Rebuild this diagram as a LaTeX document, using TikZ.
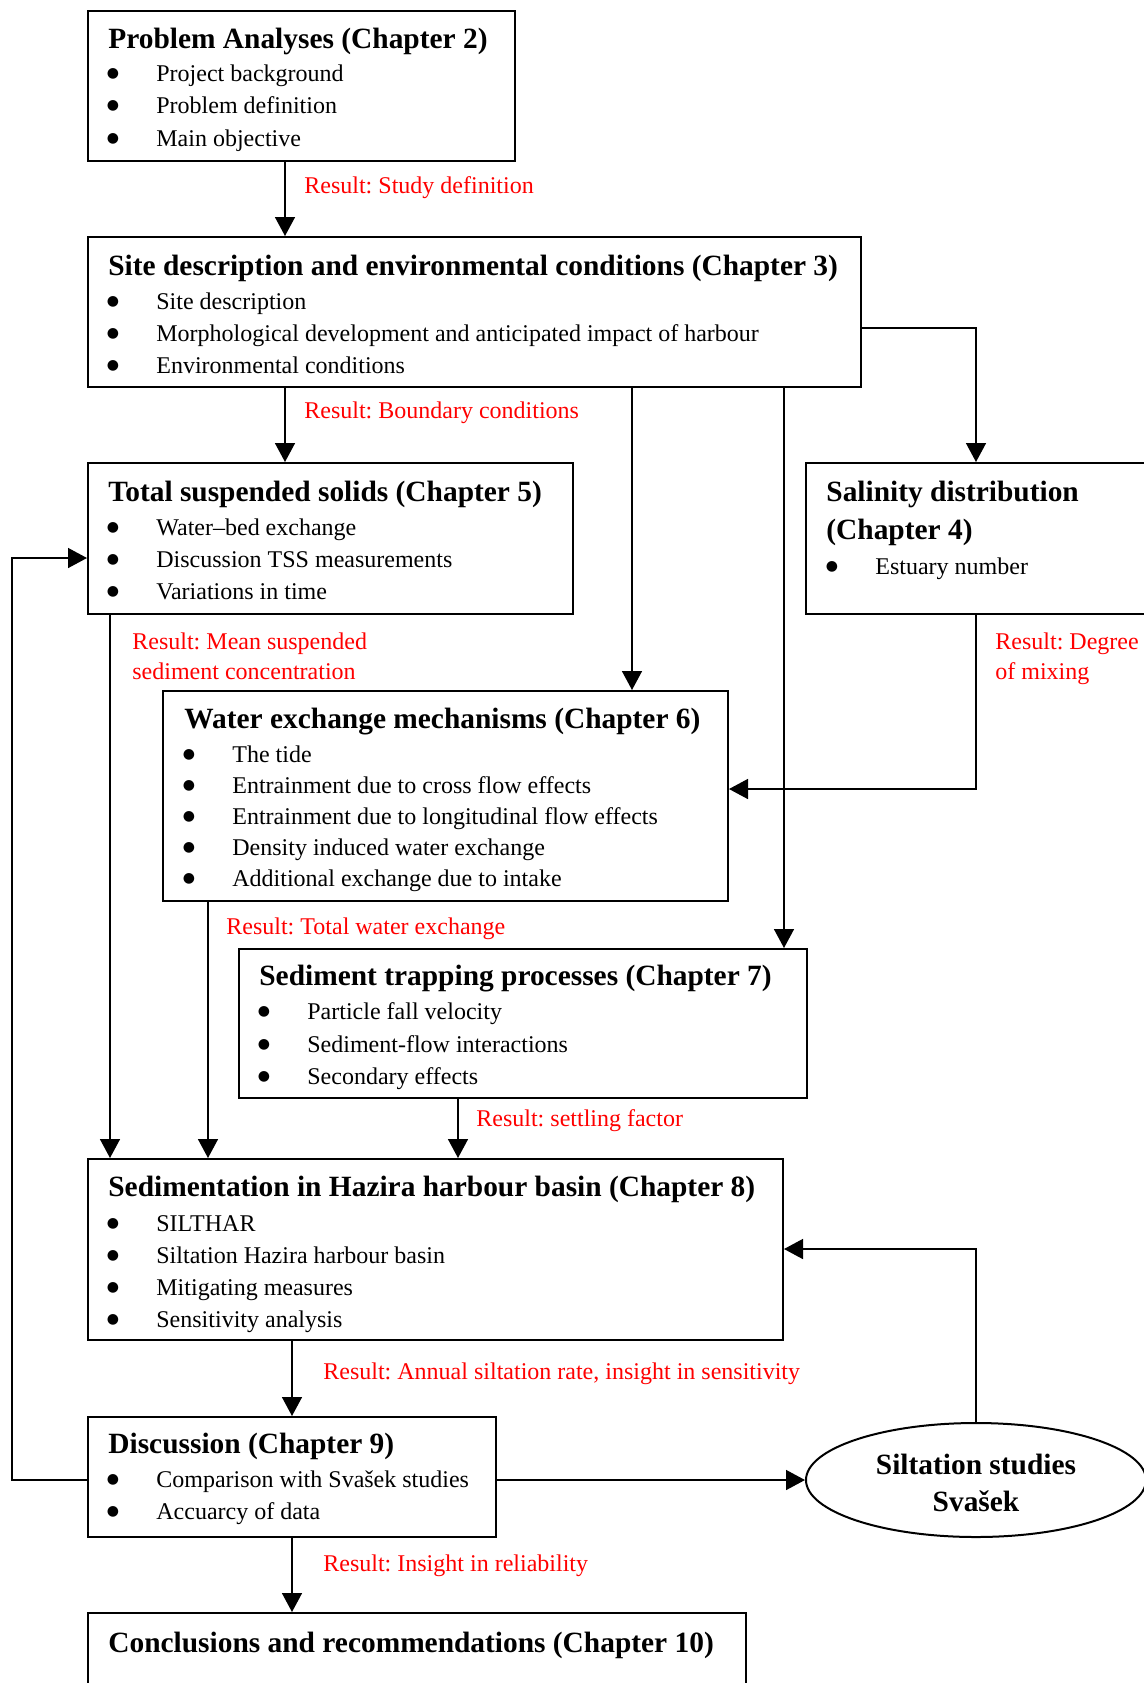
\documentclass[tikz,border=0pt]{standalone}
\usepackage{fontspec}
\setmainfont{Liberation Serif}
\newfontfamily\dejavufam{DejaVu Sans}
\usetikzlibrary{arrows.meta,fit,shapes.geometric}
\frenchspacing
\begin{document}
\begin{tikzpicture}[x=0.5pt,y=-0.5pt,
  box/.style={draw, line width=1pt, inner sep=0pt},
  ttl/.style={anchor=base west, inner sep=0pt, font=\fontsize{14.7}{17}\selectfont\bfseries},
  itm/.style={anchor=base west, inner sep=0pt, font=\fontsize{12}{14}\selectfont},
  bul/.style={anchor=base, inner sep=0pt, yshift=2pt, font=\dejavufam\fontsize{7}{8}\selectfont},
  res/.style={anchor=base west, inner sep=0pt, text=red, font=\fontsize{12}{14}\selectfont},
  arr/.style={line width=0.75pt, -{Triangle[length=9.5pt,width=10pt]}},
  con/.style={line width=0.75pt}]
\path[use as bounding box, clip] (0,0) rectangle (1144,1683);

% ---------- boxes ----------
\node[box, fit={(88,11) (515,161)}] (b1) {};
\node[box, fit={(88,237) (861,387)}] (b2) {};
\node[box, fit={(806,463) (1170,614)}] (b4) {};
\node[box, fit={(88,463) (573,614)}] (b5) {};
\node[box, fit={(163,691) (728,901)}] (b6) {};
\node[box, fit={(239,949) (807,1098)}] (b7) {};
\node[box, fit={(88,1159) (783,1340)}] (b8) {};
\node[box, fit={(88,1417) (496,1537)}] (b9) {};
\node[box, fit={(88,1613) (746,1720)}] (b10) {};
\node[draw, line width=1pt, ellipse, minimum width=170pt, minimum height=57pt, inner sep=0pt] (ell) at (976,1480) {};

% ---------- box texts ----------
\node[ttl] (t1) at (108,48) {Problem Analyses (Chapter 2)};
\node[bul] (t1ab) at (113,81) {●};  \node[itm] (t1a) at (156,81) {Project background};
\node[bul] (t1bb) at (113,113) {●}; \node[itm] (t1b) at (156,113) {Problem definition};
\node[bul] (t1cb) at (113,146) {●}; \node[itm] (t1c) at (156,146) {Main objective};

\node[ttl] (t2) at (108,275) {Site description and environmental conditions (Chapter 3)};
\node[bul] (t2ab) at (113,309) {●}; \node[itm] (t2a) at (156,309) {Site description};
\node[bul] (t2bb) at (113,341) {●}; \node[itm] (t2b) at (156,341) {Morphological development and anticipated impact of harbour};
\node[bul] (t2cb) at (113,373) {●}; \node[itm] (t2c) at (156,373) {Environmental conditions};

\node[ttl] (t4) at (826,501) {Salinity distribution};
\node[ttl] (t4x) at (826,539) {(Chapter 4)};
\node[bul] (t4ab) at (832,574) {●}; \node[itm] (t4a) at (875,574) {Estuary number};

\node[ttl] (t5) at (108,501) {Total suspended solids (Chapter 5)};
\node[bul] (t5ab) at (113,535) {●}; \node[itm] (t5a) at (156,535) {Water–bed exchange};
\node[bul] (t5bb) at (113,567) {●}; \node[itm] (t5b) at (156,567) {Discussion TSS measurements};
\node[bul] (t5cb) at (113,599) {●}; \node[itm] (t5c) at (156,599) {Variations in time};

\node[ttl] (t6) at (184,728) {Water exchange mechanisms (Chapter 6)};
\node[bul] (t6ab) at (189,762) {●}; \node[itm] (t6a) at (232,762) {The tide};
\node[bul] (t6bb) at (189,793) {●}; \node[itm] (t6b) at (232,793) {Entrainment due to cross flow effects};
\node[bul] (t6cb) at (189,824) {●}; \node[itm] (t6c) at (232,824) {Entrainment due to longitudinal flow effects};
\node[bul] (t6db) at (189,855) {●}; \node[itm] (t6d) at (232,855) {Density induced water exchange};
\node[bul] (t6eb) at (189,886) {●}; \node[itm] (t6e) at (232,886) {Additional exchange due to intake};

\node[ttl] (t7) at (259,985) {Sediment trapping processes (Chapter 7)};
\node[bul] (t7ab) at (264,1019) {●}; \node[itm] (t7a) at (307,1019) {Particle fall velocity};
\node[bul] (t7bb) at (264,1052) {●}; \node[itm] (t7b) at (307,1052) {Sediment-flow interactions};
\node[bul] (t7cb) at (264,1084) {●}; \node[itm] (t7c) at (307,1084) {Secondary effects};

\node[ttl] (t8) at (108,1196) {Sedimentation in Hazira harbour basin (Chapter 8)};
\node[bul] (t8ab) at (113,1231) {●}; \node[itm] (t8a) at (156,1231) {SILTHAR};
\node[bul] (t8bb) at (113,1263) {●}; \node[itm] (t8b) at (156,1263) {Siltation Hazira harbour basin};
\node[bul] (t8cb) at (113,1295) {●}; \node[itm] (t8c) at (156,1295) {Mitigating measures};
\node[bul] (t8db) at (113,1327) {●}; \node[itm] (t8d) at (156,1327) {Sensitivity analysis};

\node[ttl] (t9) at (108,1453) {Discussion (Chapter 9)};
\node[bul] (t9ab) at (113,1487) {●}; \node[itm] (t9a) at (156,1487) {Comparison with Svašek studies};
\node[bul] (t9bb) at (113,1519) {●}; \node[itm] (t9b) at (156,1519) {Accuarcy of data};

\node[ttl] (t10) at (108,1652) {Conclusions and recommendations (Chapter 10)};

\node[ttl, anchor=base] (te1) at (976,1474) {Siltation studies};
\node[ttl, anchor=base] (te2) at (976,1511) {Svašek};

% ---------- result labels ----------
\node[res] (r1) at (304,193) {Result: Study definition};
\node[res] (r2) at (304,418) {Result: Boundary conditions};
\node[res] (r3) at (132,649) {Result: Mean suspended};
\node[res] (r3b) at (132,679) {sediment concentration};
\node[res] (r4) at (995,649) {Result: Degree};
\node[res] (r4b) at (995,679) {of mixing};
\node[res] (r5) at (226,934) {Result: Total water exchange};
\node[res] (r6) at (476,1126) {Result: settling factor};
\node[res] (r7) at (323,1379) {Result: Annual siltation rate, insight in sensitivity};
\node[res] (r8) at (323,1571) {Result: Insight in reliability};

% ---------- lanes ----------
\coordinate (xA) at (285,0);
\coordinate (xB) at (632,0);
\coordinate (xC) at (784,0);
\coordinate (xD) at (976,0);
\coordinate (xE) at (110,0);
\coordinate (xF) at (208,0);
\coordinate (xG) at (458,0);
\coordinate (xH) at (292,0);
\coordinate (y1) at (0,328);
\coordinate (y2) at (0,789);
\coordinate (y3) at (0,1249);
\coordinate (fb) at (12,558);

% ---------- connectors ----------
\draw[arr] (b1.south -| xA) -- (b2.north -| xA);
\draw[arr] (b2.east |- y1) -| (b4.north -| xD);
\draw[arr] (b2.south -| xA) -- (b5.north -| xA);
\draw[arr] (b2.south -| xB) -- (b6.north -| xB);
\draw[arr] (b2.south -| xC) -- (b7.north -| xC);
\draw[arr] (b4.south -| xD) |- (b6.east |- y2);
\draw[arr] (b5.south -| xE) -- (b8.north -| xE);
\draw[arr] (b6.south -| xF) -- (b8.north -| xF);
\draw[arr] (b7.south -| xG) -- (b8.north -| xG);
\draw[arr] (ell.north) |- (b8.east |- y3);
\draw[arr] (b8.south -| xH) -- (b9.north -| xH);
\draw[arr] (b9.east |- ell.west) -- (ell.west);
\draw[arr] (b9.west |- ell.west) -| (fb) -- (b5.west |- fb);
\draw[arr] (b9.south -| xH) -- (b10.north -| xH);
\end{tikzpicture}
\end{document}
